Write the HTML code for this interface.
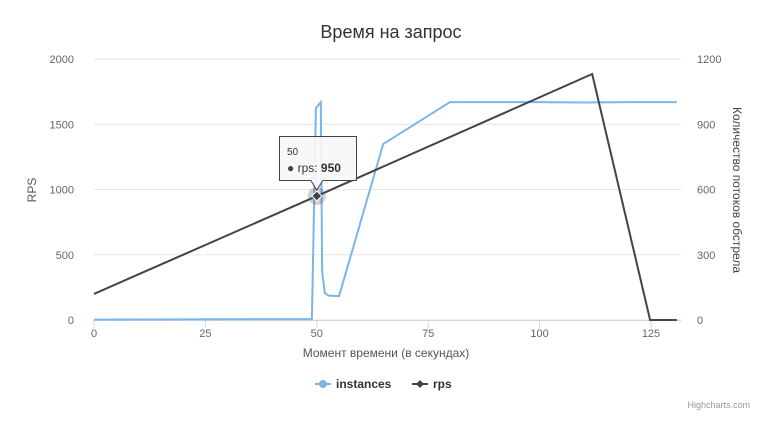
<!DOCTYPE html>
<html><head><meta charset="utf-8"><style>
body{margin:0;background:#fff;font-family:"Liberation Sans","DejaVu Sans",sans-serif}
svg text{font-family:"Liberation Sans","DejaVu Sans",sans-serif}
</style></head><body>
<svg id="c" width="783" height="420" xmlns="http://www.w3.org/2000/svg"></svg>
<script>
const xTicks=[0,25,50,75,100,125];
const leftTicks=[0,500,1000,1500,2000];
const rightTicks=[0,300,600,900,1200];
const instX=[0,20,40,48.9,49.8,50.9,51.2,51.8,52.7,55,64.9,79.9,100,110,120,130.8];
const instY=[2,3,4,4,975,1002,221,124,112,110,809,1002,1002,1000,1002,1002];
const rpsX=[0,50,111.8,124.8,130.8];
const rpsY=[200,950,1885,0,0];
const NS='http://www.w3.org/2000/svg';
const svg=document.getElementById('c');
const L=94,R=677,T=59,B=320;
const xs=v=>L+v*4.456;
const yl=v=>B-(B-T)*v/2000;
const yr=v=>B-(B-T)*v/1200;
function el(t,a,txt){const e=document.createElementNS(NS,t);for(const k in a)e.setAttribute(k,a[k]);if(txt!=null)e.textContent=txt;svg.appendChild(e);return e;}
let e;
e=el('text',{x:391,y:38,'text-anchor':'middle','font-size':18,fill:'#333'},'Время на запрос');

leftTicks.forEach((v,i)=>{
 e=el('line',{x1:L,x2:R+4,y1:yl(v),y2:yl(v),stroke:'#e6e6e6'});
 
 e=el('text',{x:74,y:yl(v)+4,'text-anchor':'end','font-size':11,fill:'#666'},v);
 
});
rightTicks.forEach(v=>{
 e=el('text',{x:697,y:yr(v)+4,'font-size':11,fill:'#666'},v);
 
});
e=el('line',{x1:L,x2:R+4,y1:B+0.5,y2:B+0.5,stroke:'#ccd6eb'});

xTicks.forEach(v=>{
 e=el('line',{x1:xs(v),x2:xs(v),y1:B,y2:B+8,stroke:'#ccd6eb'});
 
 e=el('text',{x:xs(v),y:337,'text-anchor':'middle','font-size':11,fill:'#666'},v);
 
});
e=el('text',{x:386,y:357,'text-anchor':'middle','font-size':12,fill:'#555'},'Момент времени (в секундах)');

e=el('text',{x:0,y:0,transform:'translate(36,190) rotate(-90)','text-anchor':'middle','font-size':12,fill:'#555'},'RPS');

e=el('text',{x:0,y:0,transform:'translate(733,190) rotate(90)','text-anchor':'middle','font-size':12,fill:'#444'},'Количество потоков обстрела');

e=el('path',{d:instX.map((x,i)=>(i?'L':'M')+xs(x)+' '+yr(instY[i])).join(' '),fill:'none',stroke:'#7cb5ec','stroke-width':2});

e=el('path',{d:rpsX.map((x,i)=>(i?'L':'M')+xs(x)+' '+yl(rpsY[i])).join(' '),fill:'none',stroke:'#434348','stroke-width':2});

const hx=xs(rpsX[1]),hy=yl(rpsY[1]);
e=el('circle',{cx:hx,cy:hy,r:9,fill:'#434348','fill-opacity':0.25});

e=el('path',{d:`M${hx} ${hy-5} L${hx+5} ${hy} L${hx} ${hy+5} L${hx-5} ${hy} Z`,fill:'#434348',stroke:'#fff','stroke-width':1});

e=el('path',{d:`M279.5 136.5 H356.5 V180.5 H${hx+6} L${hx} ${hy-6} L${hx-6} 180.5 H279.5 Z`,fill:'#f7f7f7','fill-opacity':0.9,stroke:'#434348'});

e=el('text',{x:287,y:155,'font-size':10,fill:'#333'},rpsX[1]);

e=el('text',{x:287,y:172,'font-size':12,fill:'#333'});
e.innerHTML='<tspan fill="#434348">●</tspan> rps: <tspan font-weight="bold">'+rpsY[1]+'</tspan>';

e=el('line',{x1:315,x2:331,y1:384,y2:384,stroke:'#7cb5ec','stroke-width':2});

e=el('circle',{cx:323,cy:384,r:4,fill:'#7cb5ec'});

e=el('text',{x:336,y:388,'font-size':12,'font-weight':'bold',fill:'#333'},'instances');

e=el('line',{x1:412,x2:428,y1:384,y2:384,stroke:'#434348','stroke-width':2});

e=el('path',{d:'M420 380 L424 384 L420 388 L416 384 Z',fill:'#434348'});

e=el('text',{x:433,y:388,'font-size':12,'font-weight':'bold',fill:'#333'},'rps');

e=el('text',{x:750,y:408,'text-anchor':'end','font-size':9,fill:'#999'},'Highcharts.com');

</script>
</body></html>
